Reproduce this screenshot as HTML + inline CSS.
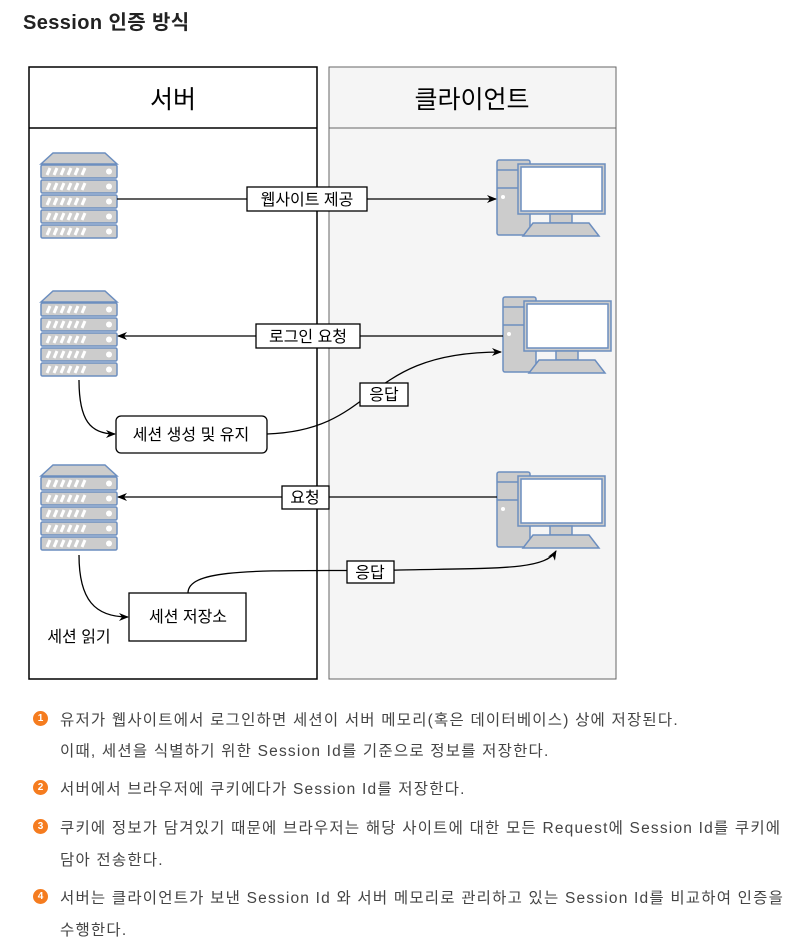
<!DOCTYPE html>
<html><head><meta charset="utf-8"><style>
body{margin:0;width:809px;height:942px;background:#fff;font-family:"Liberation Sans","Noto Sans CJK KR",sans-serif;color:#333;position:relative;overflow:hidden}
.t{position:absolute;left:23px;top:6px;font-size:20px;font-weight:bold;color:#222;letter-spacing:0.4px}
.li{position:absolute;left:60px;font-size:15.5px;letter-spacing:1.2px;color:#444;white-space:nowrap}
.b{position:absolute;left:33px;width:15px;height:15px;border-radius:50%;background:#f57c1f;color:#fff;font-size:10px;font-weight:bold;text-align:center;line-height:15px}
svg text{font-family:"Liberation Sans","Noto Sans CJK KR",sans-serif}
</style></head><body>
<div class="t">Session 인증 방식</div>
<svg width="809" height="700" style="position:absolute;left:0;top:0">
<defs>
<marker id="a" markerWidth="10" markerHeight="10" refX="9" refY="5" orient="auto" markerUnits="userSpaceOnUse"><path d="M0,1 L10,5 L0,9 L3,5z" fill="#000"/></marker>
<g id="srv">
<path d="M12,0 L64,0 L76,11 L0,11z" fill="#ccc" stroke="#6c8ebf" stroke-width="1.5"/>
<g fill="#ccc" stroke="#6c8ebf" stroke-width="1.5">
<rect x="0" y="12" width="76" height="13" rx="1.5"/><rect x="0" y="27" width="76" height="13" rx="1.5"/><rect x="0" y="42" width="76" height="13" rx="1.5"/><rect x="0" y="57" width="76" height="13" rx="1.5"/><rect x="0" y="72" width="76" height="13" rx="1.5"/></g>
<g stroke="#fff" stroke-width="3"><path d="M6,22l3,-7M13,22l3,-7M20,22l3,-7M27,22l3,-7M34,22l3,-7M41,22l3,-7M6,37l3,-7M13,37l3,-7M20,37l3,-7M27,37l3,-7M34,37l3,-7M41,37l3,-7M6,52l3,-7M13,52l3,-7M20,52l3,-7M27,52l3,-7M34,52l3,-7M41,52l3,-7M6,67l3,-7M13,67l3,-7M20,67l3,-7M27,67l3,-7M34,67l3,-7M41,67l3,-7M6,82l3,-7M13,82l3,-7M20,82l3,-7M27,82l3,-7M34,82l3,-7M41,82l3,-7"/></g>
<g fill="#fff"><circle cx="68" cy="18.5" r="3"/><circle cx="68" cy="33.5" r="3"/><circle cx="68" cy="48.5" r="3"/><circle cx="68" cy="63.5" r="3"/><circle cx="68" cy="78.5" r="3"/></g>
</g>
<g id="pc" stroke="#6c8ebf" stroke-width="1.5">
<rect x="0" y="0" width="33" height="75" rx="2" fill="#ccc"/>
<line x1="0" y1="10" x2="33" y2="10"/><line x1="0" y1="28" x2="33" y2="28"/>
<circle cx="6" cy="37" r="2" fill="#fff" stroke="none"/>
<rect x="21" y="4" width="87" height="50" fill="#ccc"/>
<rect x="24" y="7" width="81" height="44" fill="#fff"/>
<rect x="53" y="54" width="22" height="9" fill="#ccc"/>
<path d="M36,63 L92,63 L102,76 L26,76z" fill="#ccc"/>
</g>
</defs>
<rect x="29" y="67" width="288" height="612" fill="#fff" stroke="#000" stroke-width="1.5"/>
<line x1="29" y1="128" x2="317" y2="128" stroke="#000" stroke-width="1.5"/>
<text x="173" y="108" font-size="25" text-anchor="middle" fill="#000">서버</text>
<rect x="329" y="67" width="287" height="612" fill="#f5f5f5" stroke="#666"/>
<line x1="329" y1="128" x2="616" y2="128" stroke="#666"/>
<text x="472" y="108" font-size="25" text-anchor="middle" fill="#000">클라이언트</text>
<use href="#srv" x="41" y="153"/><use href="#srv" x="41" y="291"/><use href="#srv" x="41" y="465"/>
<use href="#pc" x="497" y="160"/><use href="#pc" x="503" y="297"/><use href="#pc" x="497" y="472"/>
<g fill="none" stroke="#000" stroke-width="1.3">
<line x1="117" y1="199" x2="496" y2="199" marker-end="url(#a)"/>
<line x1="503" y1="336" x2="118" y2="336" marker-end="url(#a)"/>
<line x1="497" y1="497" x2="118" y2="497" marker-end="url(#a)"/>
<path d="M79,380 C79,420 90,434 115,434" marker-end="url(#a)"/>
<path d="M267,434 C380,430 360,352 501,352" marker-end="url(#a)"/>
<path d="M79,555 C79,600 95,617 128,617" marker-end="url(#a)"/>
<path d="M188,593 C188,565 280,572 400,570 C500,568 545,570 556,551" marker-end="url(#a)"/>
</g>
<g stroke="#000" stroke-width="1.3" fill="#fff">
<rect x="247" y="187" width="120" height="24"/>
<rect x="256" y="324" width="104" height="24"/>
<rect x="360" y="383" width="48" height="23"/>
<rect x="282" y="486" width="47" height="23"/>
<rect x="347" y="561" width="47" height="22"/>
<rect x="116" y="416" width="151" height="37" rx="5"/>
<rect x="129" y="593" width="117" height="48"/>
</g>
<g font-size="16" text-anchor="middle" fill="#000">
<text x="307" y="205">웹사이트 제공</text>
<text x="308" y="342">로그인 요청</text>
<text x="384" y="400">응답</text>
<text x="305" y="503">요청</text>
<text x="370" y="578">응답</text>
<text x="191" y="440">세션 생성 및 유지</text>
<text x="188" y="622">세션 저장소</text>
<text x="79" y="642">세션 읽기</text>
</g>
</svg>
<div class="b" style="top:711px">1</div><div class="li" style="top:708px">유저가 웹사이트에서 로그인하면 세션이 서버 메모리(혹은 데이터베이스) 상에 저장된다.</div>
<div class="li" style="top:739px">이때, 세션을 식별하기 위한 Session Id를 기준으로 정보를 저장한다.</div>
<div class="b" style="top:780px">2</div><div class="li" style="top:777px">서버에서 브라우저에 쿠키에다가 Session Id를 저장한다.</div>
<div class="b" style="top:819px">3</div><div class="li" style="top:816px">쿠키에 정보가 담겨있기 때문에 브라우저는 해당 사이트에 대한 모든 Request에 Session Id를 쿠키에</div>
<div class="li" style="top:848px">담아 전송한다.</div>
<div class="b" style="top:889px">4</div><div class="li" style="top:886px">서버는 클라이언트가 보낸 Session Id 와 서버 메모리로 관리하고 있는 Session Id를 비교하여 인증을</div>
<div class="li" style="top:918px">수행한다.</div>
</body></html>
